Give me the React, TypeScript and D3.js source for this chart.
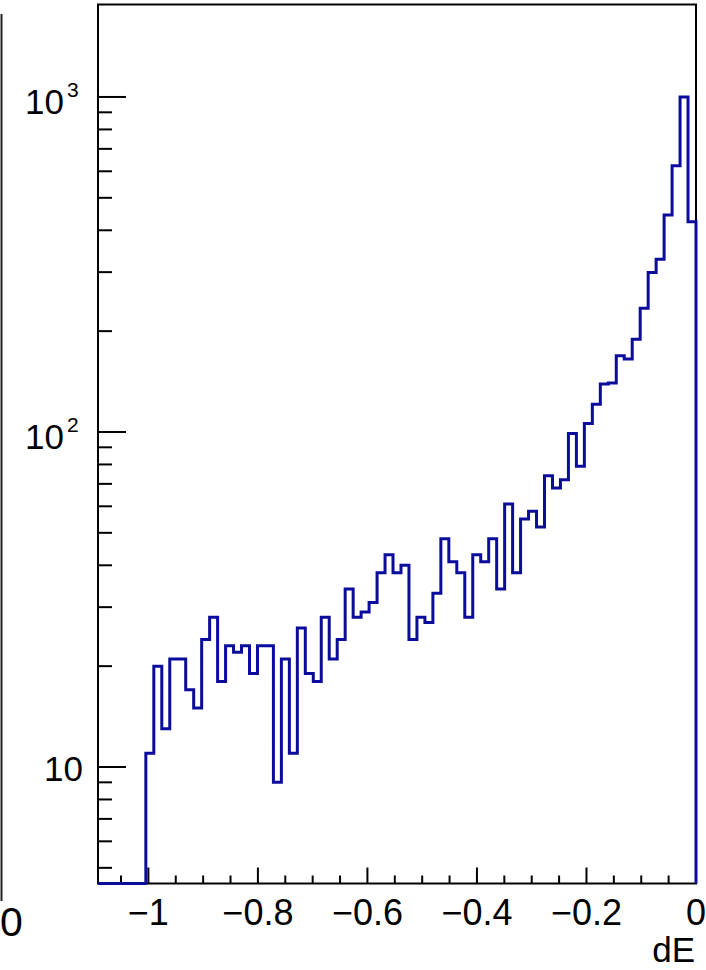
import React from "react";
import * as d3 from "d3";

// Histogram range and contents (75 equal-width bins)
const X_MIN = -1.092;
const X_MAX = 0;
const Y_MIN = 4.49;
const Y_MAX = 1888;

const counts: number[] = [
  0, 0, 0, 0, 0, 0, 11, 20, 13, 21,
  21, 17, 15, 24, 28, 18, 23, 22, 23, 19,
  23, 23, 9, 21, 11, 26, 19, 18, 28, 21,
  24, 34, 28, 29, 31, 38, 43, 38, 40, 24,
  28, 27, 33, 48, 41, 38, 28, 43, 41, 48,
  34, 61, 38, 55, 58, 52, 74, 68, 72, 99,
  79, 106, 121, 139, 140, 169, 165, 189, 234, 299,
  328, 444, 623, 1000, 424,
];

const xMajorLabels: string[] = ["−1", "−0.8", "−0.6", "−0.4", "−0.2", "0"];
const xMajorValues: number[] = [-1, -0.8, -0.6, -0.4, -0.2, 0];
const X_TITLE = "dE";

const W = 706;
const H = 970;
const FRAME = { left: 98, right: 696, top: 4.5, bottom: 883.5 };
const FONT = "'Liberation Sans', Arial, Helvetica, sans-serif";
const LINE_COLOR = "#0c0c9c";

export default function App() {
  const x = d3.scaleLinear().domain([X_MIN, X_MAX]).range([FRAME.left, FRAME.right]);
  const y = d3.scaleLog().domain([Y_MIN, Y_MAX]).range([FRAME.bottom, FRAME.top]);

  const nBins = counts.length;
  const binW = (X_MAX - X_MIN) / nBins;

  // step outline: each bin contributes its left and right corner
  const pts: [number, number][] = [[X_MIN, Y_MIN]];
  counts.forEach((c, i) => {
    const v = Math.max(c, Y_MIN);
    pts.push([X_MIN + i * binW, v]);
    pts.push([X_MIN + (i + 1) * binW, v]);
  });
  pts.push([X_MAX, Y_MIN]);

  const line = d3
    .line<[number, number]>()
    .x((d) => x(d[0]))
    .y((d) => y(d[1]));

  const yTicks = y.ticks();
  const isPow10 = (v: number) => Math.abs(Math.log10(v) - Math.round(Math.log10(v))) < 1e-9;

  const xTicks = d3.ticks(X_MIN, X_MAX, 22);
  const isMajorX = (v: number) => Math.abs(v / 0.2 - Math.round(v / 0.2)) < 1e-6;

  return (
    <svg
      width={W}
      height={H}
      style={{ position: "fixed", left: 0, top: 0, background: "#fff" }}
      fontFamily={FONT}
    >
      <rect x={0} y={0} width={W} height={H} fill="#fff" />

      {/* neighbouring pad edge and its last label */}
      <line x1={1.5} y1={14} x2={1.5} y2={901} stroke="#222" strokeWidth={2} />
      <text x={0} y={936} fontSize={41} fill="#000">0</text>

      {/* frame */}
      <rect
        x={FRAME.left}
        y={FRAME.top}
        width={FRAME.right - FRAME.left}
        height={FRAME.bottom - FRAME.top}
        fill="none"
        stroke="#000"
        strokeWidth={2}
      />

      {/* y ticks */}
      {yTicks.map((t) => {
        const major = isPow10(t);
        return (
          <line
            key={"yt" + t}
            x1={FRAME.left}
            x2={FRAME.left + (major ? 28 : 14)}
            y1={y(t)}
            y2={y(t)}
            stroke="#000"
            strokeWidth={2}
          />
        );
      })}

      {/* y labels */}
      {yTicks.filter(isPow10).map((t) => {
        const e = Math.round(Math.log10(t));
        const ty = y(t);
        if (e === 1) {
          return (
            <text key={"yl" + t} x={83} y={ty + 14} fontSize={35} textAnchor="end" fill="#000">
              10
            </text>
          );
        }
        return (
          <g key={"yl" + t}>
            <text x={64} y={ty + 16.8} fontSize={35} textAnchor="end" fill="#000">
              10
            </text>
            <text x={67} y={ty + 0.3} fontSize={21} textAnchor="start" fill="#000">
              {e}
            </text>
          </g>
        );
      })}

      {/* x ticks */}
      {xTicks.map((t) => {
        const major = isMajorX(t);
        return (
          <line
            key={"xt" + t}
            x1={x(t)}
            x2={x(t)}
            y1={FRAME.bottom}
            y2={FRAME.bottom - (major ? 16 : 8)}
            stroke="#000"
            strokeWidth={2}
          />
        );
      })}

      {/* x labels */}
      {xMajorValues.map((v, i) => (
        <text key={"xl" + i} x={x(v)} y={925} fontSize={36} textAnchor="middle" fill="#000">
          {xMajorLabels[i]}
        </text>
      ))}

      <text x={695} y={962} fontSize={35} textAnchor="end" fill="#000">
        {X_TITLE}
      </text>

      {/* histogram outline */}
      <path d={line(pts) || ""} fill="none" stroke={LINE_COLOR} strokeWidth={3} strokeLinejoin="miter" />
    </svg>
  );
}
